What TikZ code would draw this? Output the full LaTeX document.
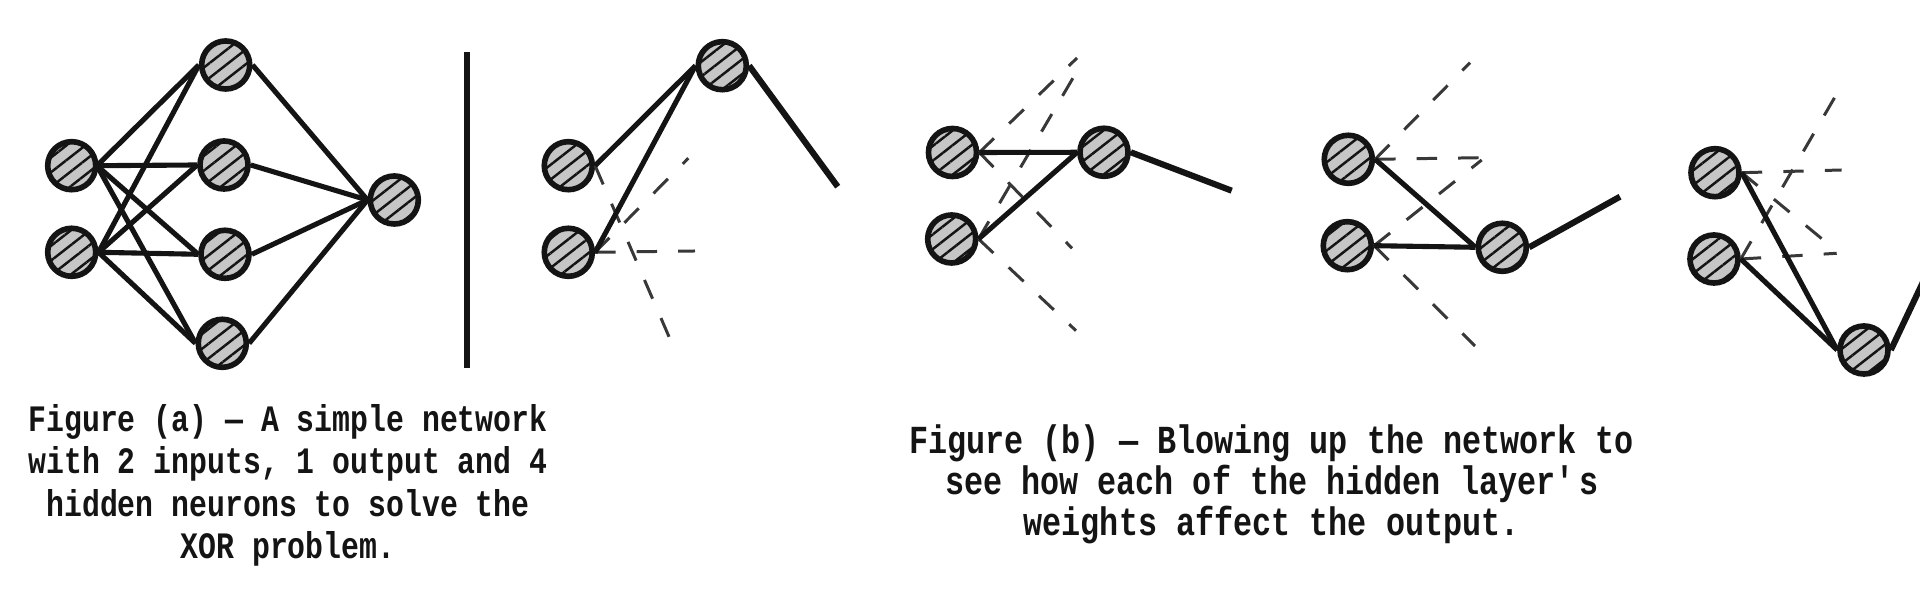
\documentclass[tikz,border=0pt]{standalone}
\usepackage{fontspec}
\newfontfamily\capfont[FakeStretch=0.8]{Liberation Mono}
\usetikzlibrary{patterns.meta}
\definecolor{ink}{HTML}{141414}
\definecolor{dashink}{HTML}{383838}
\definecolor{neurongray}{HTML}{C6C6C6}

\begin{document}
\begin{tikzpicture}[x=0.01cm,y=-0.01cm,
    neuron/.style={circle,draw=ink,line width=1.6pt,minimum size=0.48cm,inner sep=0pt,
        preaction={fill=neurongray},
        pattern={Lines[angle=38,distance=3.3pt,line width=0.7pt]},pattern color=ink},
    wire/.style={draw=ink,line width=1.45pt},
    stub/.style={draw=ink,line width=1.75pt},
    guess/.style={draw=dashink,line width=0.85pt,dash pattern=on 5.8pt off 6pt},
    capa/.style={font=\capfont\bfseries\fontsize{10.6}{12.0}\selectfont,text=ink,align=center,inner sep=0pt},
    capb/.style={font=\capfont\bfseries\fontsize{11.3}{11.7}\selectfont,text=ink,align=center,inner sep=0pt}]
    \clip (0,0) rectangle (1920,595);

    % (a) the whole network
    \node[neuron] (ain1) at (71.7,165.7) {};
    \node[neuron] (ain2) at (71.7,252.3) {};
    \node[neuron] (ah1) at (225.7,65) {};
    \node[neuron] (ah2) at (224,165) {};
    \node[neuron] (ah3) at (225,254.3) {};
    \node[neuron] (ah4) at (222.3,343.3) {};
    \node[neuron] (aout) at (394.3,200) {};
    \foreach \i in {1,2}
        \foreach \j in {1,...,4}
            \draw[wire] (ain\i.east) -- (ah\j.west);
    \foreach \j in {1,...,4}
        \draw[wire] (ah\j.east) -- (aout.west);

    \coordinate (divtop) at (466.7,51.7);
    \coordinate (divbot) at (466.7,368.3);
    \draw[stub] (divtop) -- (divbot);

    % (b) one hidden neuron at a time
    \node[neuron] (b1in1) at (568.3,165.7) {};
    \node[neuron] (b1in2) at (568.3,252.3) {};
    \node[neuron] (b1h) at (722.3,65.7) {};
    \coordinate (b1out) at (837.7,186.7);
    \coordinate (b1d1) at (673.3,346.7);
    \coordinate (b1d2) at (688.3,158.3);
    \coordinate (b1d3) at (695,251);
    \draw[guess] (b1in1.east) -- (b1d1);
    \draw[guess] (b1in2.east) -- (b1d2);
    \draw[guess] (b1in2.east) -- (b1d3);
    \draw[wire] (b1in1.east) -- (b1h.west);
    \draw[wire] (b1in2.east) -- (b1h.west);
    \draw[stub] (b1h.east) -- (b1out);

    \node[neuron] (b2in1) at (952.5,152.5) {};
    \node[neuron] (b2in2) at (951.7,239) {};
    \node[neuron] (b2h) at (1104,152.3) {};
    \coordinate (b2out) at (1231.7,190.7);
    \coordinate (b2d1) at (1077,58);
    \coordinate (b2d2) at (1072,248.3);
    \coordinate (b2d3) at (1076.7,71.7);
    \coordinate (b2d4) at (1076,330.7);
    \draw[guess] (b2in1.east) -- (b2d1);
    \draw[guess] (b2in1.east) -- (b2d2);
    \draw[guess] (b2in2.east) -- (b2d3);
    \draw[guess] (b2in2.east) -- (b2d4);
    \draw[wire] (b2in1.east) -- (b2h.west);
    \draw[wire] (b2in2.east) -- (b2h.west);
    \draw[stub] (b2h.east) -- (b2out);

    \node[neuron] (b3in1) at (1348.3,159.3) {};
    \node[neuron] (b3in2) at (1347.3,245.7) {};
    \node[neuron] (b3h) at (1502.3,247.3) {};
    \coordinate (b3out) at (1620,196.7);
    \coordinate (b3d1) at (1481.7,157.7);
    \coordinate (b3d2) at (1470,62.7);
    \coordinate (b3d3) at (1481.7,160);
    \coordinate (b3d4) at (1475,346);
    \draw[guess] (b3in1.east) -- (b3d1);
    \draw[guess] (b3in1.east) -- (b3d2);
    \draw[guess] (b3in2.east) -- (b3d3);
    \draw[guess] (b3in2.east) -- (b3d4);
    \draw[wire] (b3in1.east) -- (b3h.west);
    \draw[wire] (b3in2.east) -- (b3h.west);
    \draw[stub] (b3h.east) -- (b3out);

    \node[neuron] (b4in1) at (1715,172.7) {};
    \node[neuron] (b4in2) at (1714,259) {};
    \node[neuron] (b4h) at (1864,350) {};
    \coordinate (b4out) at (1935,256.7);
    \coordinate (b4d1) at (1841.7,170);
    \coordinate (b4d2) at (1823.3,240);
    \coordinate (b4d3) at (1836.7,253.3);
    \coordinate (b4d4) at (1840,88.3);
    \draw[guess] (b4in1.east) -- (b4d1);
    \draw[guess] (b4in1.east) -- (b4d2);
    \draw[guess] (b4in2.east) -- (b4d3);
    \draw[guess] (b4in2.east) -- (b4d4);
    \draw[wire] (b4in1.east) -- (b4h.west);
    \draw[wire] (b4in2.east) -- (b4h.west);
    \draw[stub] (b4h.east) -- (b4out);

    % captions (anchored at the last line)
    \node[capa,anchor=base] (capta) at (288,558.3)
        {Figure (a) — A simple network\\with 2 inputs, 1 output and 4\\hidden neurons to solve the\\XOR problem.};
    \node[capb,anchor=base] (captb) at (1271.7,536)
        {Figure (b) — Blowing up the network to\\see how each of the hidden layer\textquotesingle s\\weights affect the output.};
\end{tikzpicture}
\end{document}
